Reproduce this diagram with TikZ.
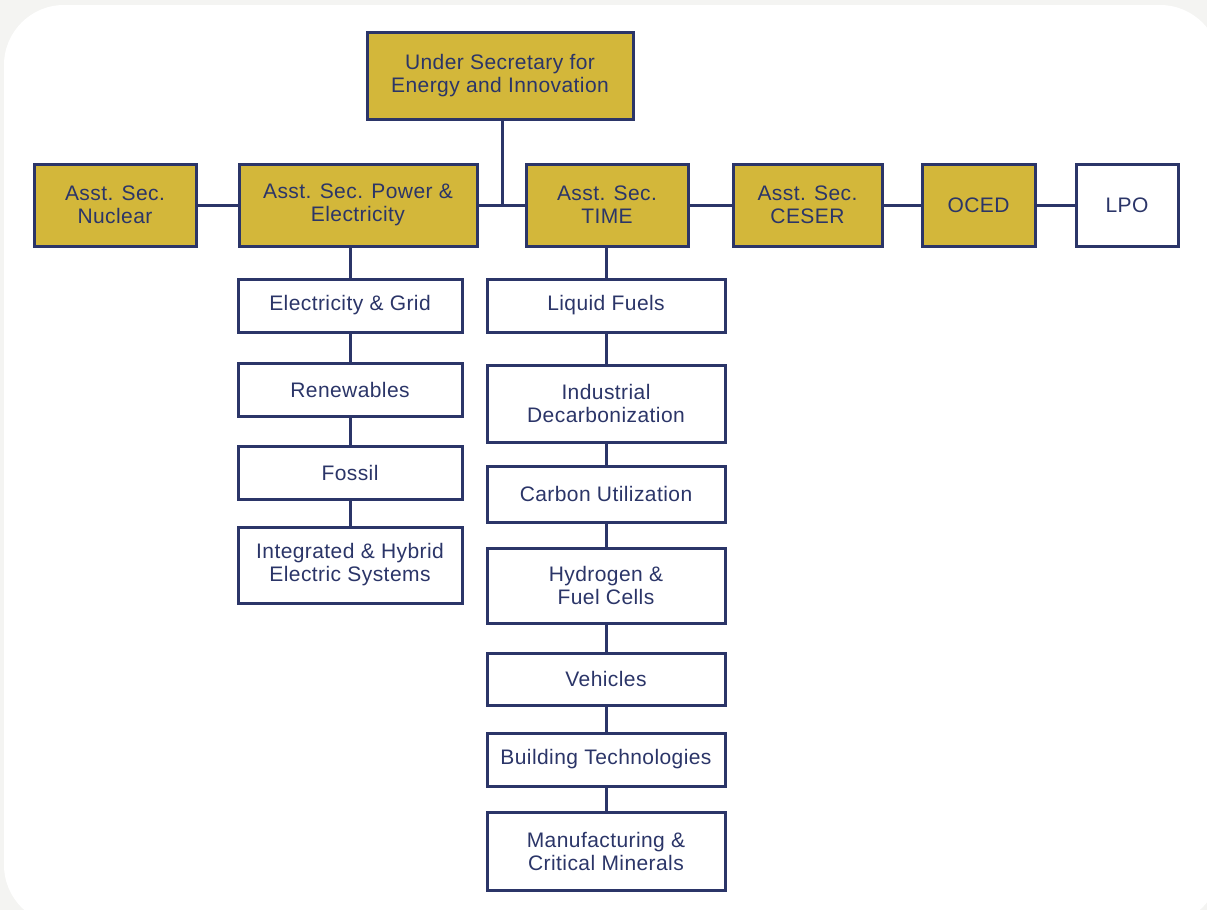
\documentclass[tikz,border=0pt]{standalone}
\usepackage{fontspec}
\setmainfont[LetterSpace=2]{Liberation Sans}
\definecolor{gold}{HTML}{D3B73A}
\definecolor{navy}{HTML}{2B3568}
\definecolor{bggray}{HTML}{F4F4F2}
\begin{document}
\begin{tikzpicture}[x=1pt,y=-1pt,
  box/.style={draw=navy, line width=3pt, text=navy, align=center, inner sep=0pt,
    font=\fontsize{21}{23}\selectfont},
  goldbox/.style={box, fill=gold},
  whitebox/.style={box, fill=white},
  link/.style={draw=navy, line width=3pt}]
\useasboundingbox (0,0) rectangle (1207,910);
\begin{scope}
\clip (0,0) rectangle (1207,910);
\fill[bggray] (0,0) rectangle (1207,910);
\fill[white, rounded corners=60pt] (4,5) rectangle (1220,925);
\end{scope}
% top level
\node[goldbox, minimum width=266pt, minimum height=87pt] (top) at (500,75.5) {Under Secretary for\\Energy and Innovation};
% second row
\node[goldbox, minimum width=162pt, minimum height=82pt] (nuc) at (115,205) {Asst. Sec.\\Nuclear};
\node[goldbox, minimum width=238pt, minimum height=82pt] (pow) at (358,205) {Asst. Sec. Power \&\\Electricity};
\node[goldbox, minimum width=162pt, minimum height=82pt] (time) at (607,205) {Asst. Sec.\\TIME};
\node[goldbox, minimum width=149pt, minimum height=82pt] (ceser) at (807.5,205) {Asst. Sec.\\CESER};
\node[goldbox, minimum width=113pt, minimum height=82pt] (oced) at (978.5,205) {OCED};
\node[whitebox, minimum width=102pt, minimum height=82pt] (lpo) at (1127,205) {LPO};
% left column
\node[whitebox, minimum width=224pt, minimum height=53pt] (eg) at (350,305.5) {Electricity \& Grid};
\node[whitebox, minimum width=224pt, minimum height=53pt] (ren) at (350,389.5) {Renewables};
\node[whitebox, minimum width=224pt, minimum height=53pt] (fos) at (350,472.5) {Fossil};
\node[whitebox, minimum width=224pt, minimum height=76pt] (ihe) at (350,565) {Integrated \& Hybrid\\Electric Systems};
% right column
\node[whitebox, minimum width=238pt, minimum height=53pt] (lf) at (606,305.5) {Liquid Fuels};
\node[whitebox, minimum width=238pt, minimum height=77pt] (ind) at (606,403.5) {Industrial\\Decarbonization};
\node[whitebox, minimum width=238pt, minimum height=56pt] (cu) at (606,494) {Carbon Utilization};
\node[whitebox, minimum width=238pt, minimum height=75pt] (hfc) at (606,585.5) {Hydrogen \&\\Fuel Cells};
\node[whitebox, minimum width=238pt, minimum height=52pt] (veh) at (606,679) {Vehicles};
\node[whitebox, minimum width=238pt, minimum height=53pt] (bt) at (606,759.5) {Building Technologies};
\node[whitebox, minimum width=238pt, minimum height=78pt] (mcm) at (606,851) {Manufacturing \&\\Critical Minerals};
% connectors
\coordinate (j) at ([xshift=2pt]top.south |- pow.east);
\draw[link] ([xshift=2pt]top.south) -- (j);
\draw[link] (nuc.east) -- (pow.west);
\draw[link] (pow.east) -- (time.west);
\draw[link] (time.east) -- (ceser.west);
\draw[link] (ceser.east) -- (oced.west);
\draw[link] (oced.east) -- (lpo.west);
\draw[link] (eg.north) -- (eg.north |- pow.south);
\draw[link] (eg.south) -- (ren.north);
\draw[link] (ren.south) -- (fos.north);
\draw[link] (fos.south) -- (ihe.north);
\draw[link] (lf.north) -- (lf.north |- time.south);
\draw[link] (lf.south) -- (ind.north);
\draw[link] (ind.south) -- (cu.north);
\draw[link] (cu.south) -- (hfc.north);
\draw[link] (hfc.south) -- (veh.north);
\draw[link] (veh.south) -- (bt.north);
\draw[link] (bt.south) -- (mcm.north);
\end{tikzpicture}
\end{document}
